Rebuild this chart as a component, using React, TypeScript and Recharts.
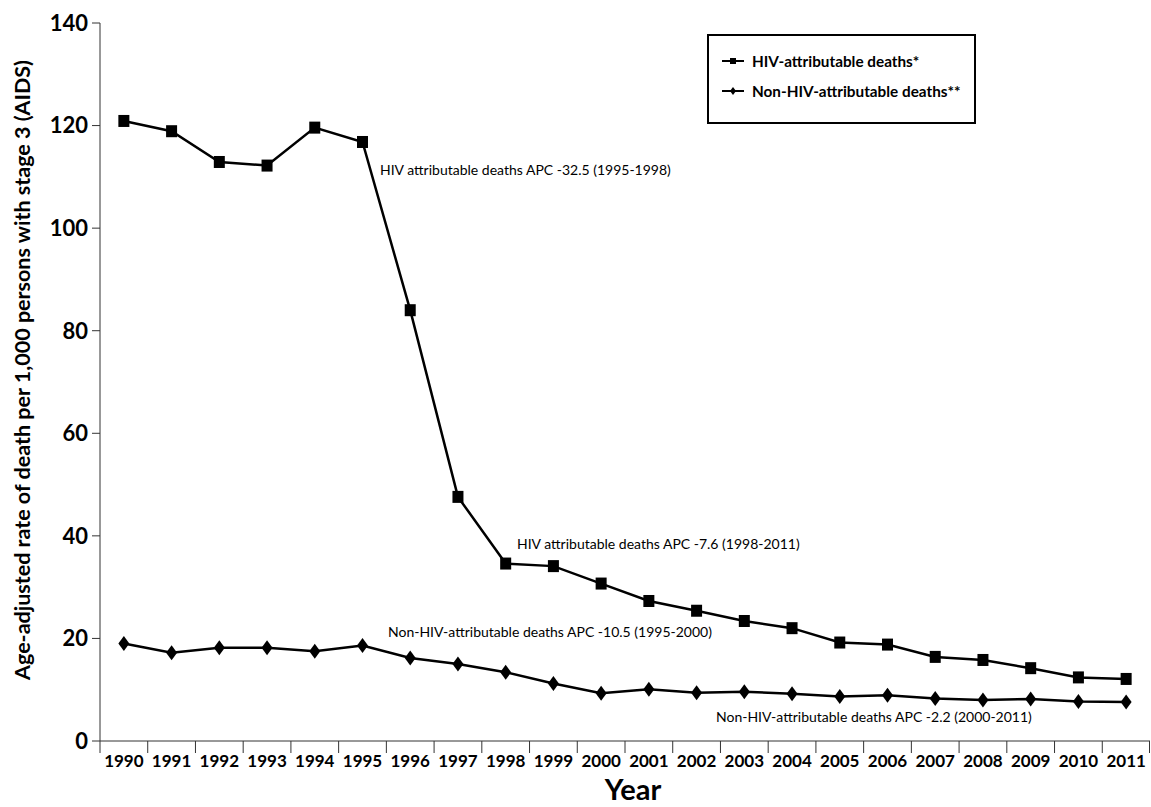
import React from 'react';
import { LineChart, Line, XAxis, YAxis, Legend, Label } from 'recharts';

// values (rate per 1,000 persons with stage 3)
const years = ['1990', '1991', '1992', '1993', '1994', '1995', '1996', '1997', '1998', '1999', '2000',
    '2001', '2002', '2003', '2004', '2005', '2006', '2007', '2008', '2009', '2010', '2011'];
const hivDeaths = [120.9, 118.9, 112.9, 112.2, 119.6, 116.8, 84.0, 47.6, 34.6, 34.1, 30.7,
    27.3, 25.4, 23.4, 22.0, 19.2, 18.8, 16.4, 15.8, 14.2, 12.4, 12.1];
const nonHivDeaths = [19.0, 17.2, 18.2, 18.2, 17.5, 18.6, 16.2, 15.0, 13.4, 11.2, 9.3,
    10.1, 9.4, 9.6, 9.2, 8.7, 8.9, 8.3, 8.0, 8.2, 7.7, 7.6];
const yTicks = [0, 20, 40, 60, 80, 100, 120, 140];

const seriesNames = ['HIV-attributable deaths*', 'Non-HIV-attributable deaths**'];
const annotations = [
    { text: 'HIV attributable deaths APC -32.5 (1995-1998)', left: 380, top: 162 },
    { text: 'HIV attributable deaths APC -7.6 (1998-2011)', left: 517, top: 536 },
    { text: 'Non-HIV-attributable deaths APC -10.5 (1995-2000)', left: 388, top: 624 },
    { text: 'Non-HIV-attributable deaths APC -2.2 (2000-2011)', left: 716, top: 709 },
];

const data = years.map((year, i) => ({ year, hiv: hivDeaths[i], nonHiv: nonHivDeaths[i] }));

const WIDTH = 1151;
const HEIGHT = 807;
const Y_AXIS_W = 100;
const X_AXIS_H = 66;
const MARGIN = { top: 23, right: 1, left: 0, bottom: 0 };
const BAND = (WIDTH - Y_AXIS_W - MARGIN.right) / years.length;
const AXIS = '#333';

const SquareDot = (props: any) => {
    const { cx, cy, index } = props;
    if (cx == null || cy == null) return null;
    return <rect key={`sq-${index}`} x={cx - 5.5} y={cy - 6} width={11} height={12} fill="#000" />;
};

const DiamondDot = (props: any) => {
    const { cx, cy, index } = props;
    if (cx == null || cy == null) return null;
    return <path key={`dm-${index}`} d={`M${cx},${cy - 7.5} L${cx + 5.5},${cy} L${cx},${cy + 7.5} L${cx - 5.5},${cy} Z`} fill="#000" />;
};

// category label centred in its band, with separator ticks at band edges
const YearTick = (props: any) => {
    const { x, y, payload, index } = props;
    const isLast = index === years.length - 1;
    return (
        <g>
            <line x1={x - BAND / 2} x2={x - BAND / 2} y1={y} y2={y + 12} stroke={AXIS} strokeWidth={1} />
            {isLast && <line x1={x + BAND / 2 - 0.5} x2={x + BAND / 2 - 0.5} y1={y} y2={y + 12} stroke={AXIS} strokeWidth={1} />}
            <text x={x} y={y + 26} textAnchor="middle" fontSize={17} fontWeight={700} fill="#000">
                {payload.value}
            </text>
        </g>
    );
};

const YTitle = (props: any) => {
    const vb = props.viewBox || { x: 0, y: 0, width: 0, height: 0 };
    const cx = vb.x + 22;
    const cy = vb.y + vb.height / 2 - 12;
    return (
        <text x={cx} y={cy} dy={7.5} transform={`rotate(-90, ${cx}, ${cy})`} textAnchor="middle" fontSize={21.5} fontWeight={700} fill="#000">
            Age-adjusted rate of death per 1,000 persons with stage 3 (AIDS)
        </text>
    );
};

const XTitle = (props: any) => {
    const vb = props.viewBox || { x: 0, y: 0, width: 0, height: 0 };
    return (
        <text x={vb.x + vb.width / 2 + 8} y={vb.y + vb.height - 7} textAnchor="middle" fontSize={29} fontWeight={700} fill="#000">
            Year
        </text>
    );
};

const LegendBox = () => (
    <div style={{ width: 265, height: 86, border: '2px solid #000', background: '#fff', fontFamily: 'Lato, sans-serif' }}>
        {seriesNames.map((name, i) => (
            <div key={name} style={{ position: 'absolute', left: 15, top: i === 0 ? 19 : 49, height: 16, display: 'flex', alignItems: 'center' }}>
                <svg width={22} height={12} style={{ marginRight: 8 }}>
                    <line x1={0} x2={22} y1={6} y2={6} stroke="#000" strokeWidth={2} />
                    {i === 0
                        ? <rect x={8} y={3} width={6} height={6} fill="#000" />
                        : <path d="M11,2 L14,6 L11,10 L8,6 Z" fill="#000" />}
                </svg>
                <span style={{ fontSize: 15.3, fontWeight: 700, color: '#000', whiteSpace: 'nowrap' }}>{name}</span>
            </div>
        ))}
    </div>
);

export default function App() {
    return (
        <div style={{ position: 'absolute', left: 0, top: 0, width: WIDTH, height: HEIGHT, background: '#fff', fontFamily: 'Lato, "Open Sans", sans-serif' }}>
            <LineChart width={WIDTH} height={HEIGHT} data={data} margin={MARGIN}>
                <XAxis
                    dataKey="year"
                    height={X_AXIS_H}
                    interval={0}
                    padding={{ left: BAND / 2, right: BAND / 2 }}
                    tickLine={false}
                    tickSize={0}
                    tickMargin={0}
                    axisLine={{ stroke: AXIS, strokeWidth: 1 }}
                    tick={<YearTick />}
                    label={<Label content={<XTitle />} />}
                />
                <YAxis
                    width={Y_AXIS_W}
                    domain={[0, 140]}
                    ticks={yTicks}
                    interval={0}
                    tickSize={8}
                    tickMargin={4}
                    axisLine={{ stroke: AXIS, strokeWidth: 1 }}
                    tickLine={{ stroke: AXIS, strokeWidth: 1 }}
                    tick={{ fontSize: 22, fontWeight: 700, fill: '#000' }}
                    label={<Label content={<YTitle />} />}
                />
                <Legend
                    layout="vertical"
                    align="center"
                    verticalAlign="middle"
                    content={<LegendBox />}
                    wrapperStyle={{ left: 707, top: 34, width: 269, height: 90 }}
                />
                <Line
                    dataKey="hiv"
                    name={seriesNames[0]}
                    type="linear"
                    stroke="#000"
                    strokeWidth={2.5}
                    dot={<SquareDot />}
                    activeDot={false}
                    isAnimationActive={false}
                />
                <Line
                    dataKey="nonHiv"
                    name={seriesNames[1]}
                    type="linear"
                    stroke="#000"
                    strokeWidth={2.5}
                    dot={<DiamondDot />}
                    activeDot={false}
                    isAnimationActive={false}
                />
            </LineChart>
            {annotations.map((a) => (
                <div
                    key={a.text}
                    style={{ position: 'absolute', left: a.left, top: a.top, fontSize: 14, lineHeight: '16px', color: '#000', whiteSpace: 'nowrap' }}
                >
                    {a.text}
                </div>
            ))}
        </div>
    );
}
